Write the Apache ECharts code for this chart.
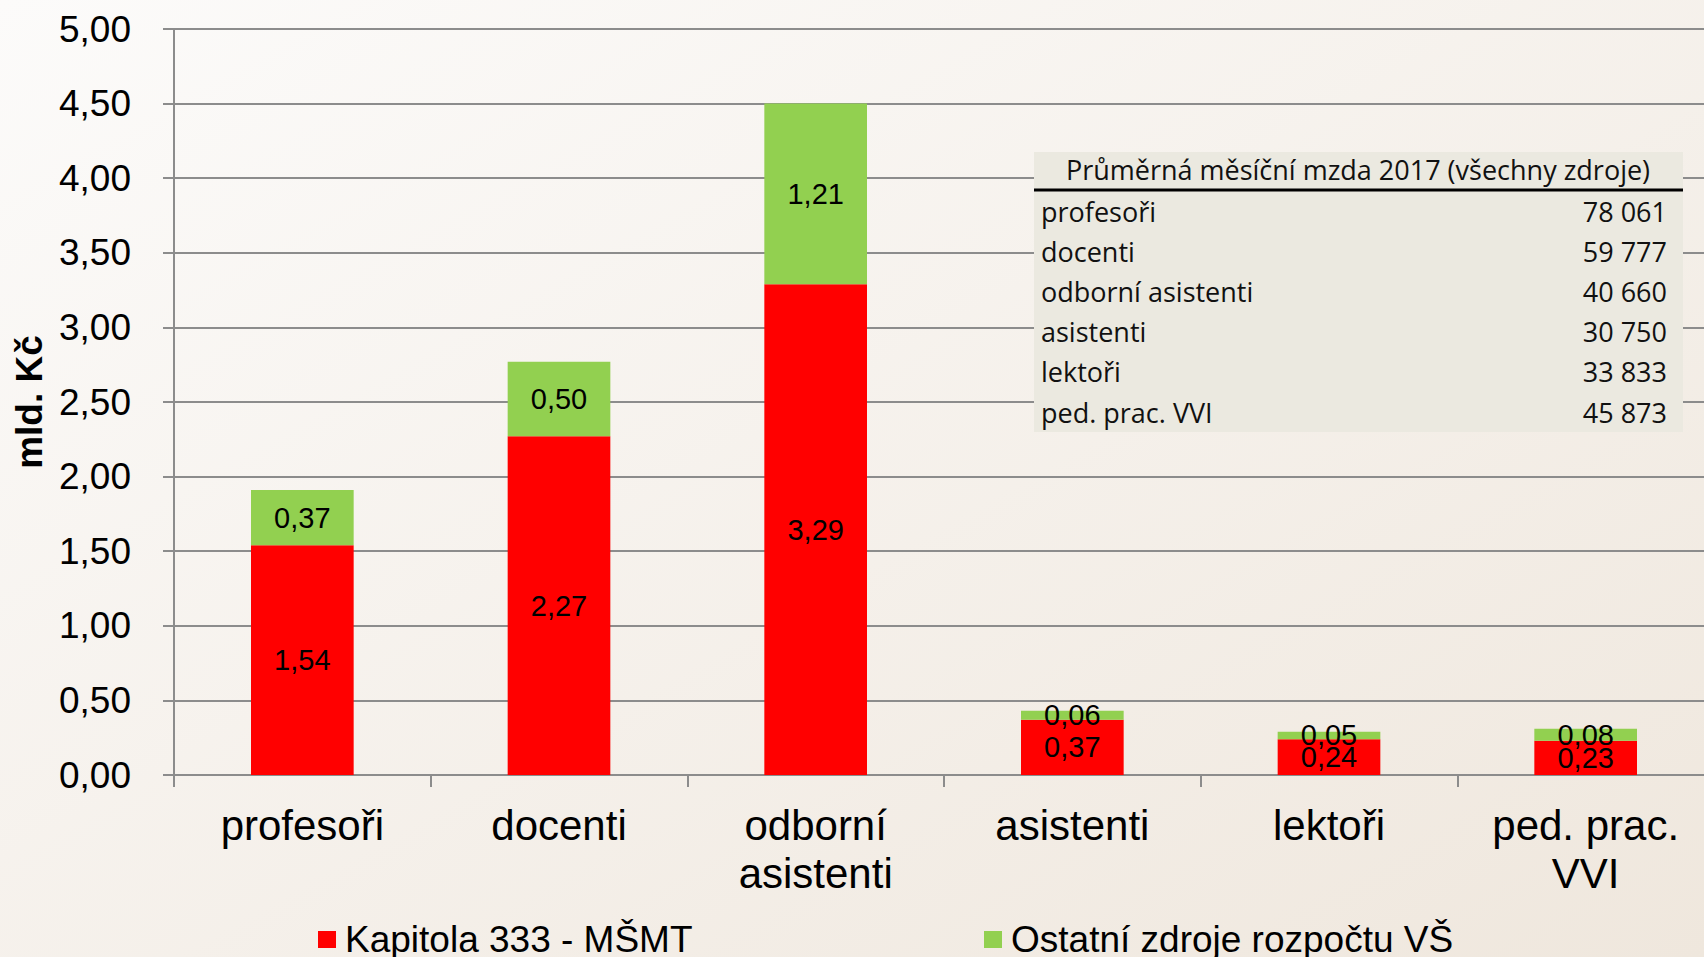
<!DOCTYPE html>
<html>
<head>
<meta charset="utf-8">
<script src="https://cdn.jsdelivr.net/npm/echarts@6/dist/echarts.min.js"></script>
<style>
html, body { margin: 0; padding: 0; }
#main { width: 1704px; height: 957px; }
</style>
</head>
<body>
<div id="main"></div>
<script>
// kategorie a hodnoty (mld. Kč)
var categories = ["profesoři", "docenti", "odborní\nasistenti", "asistenti", "lektoři", "ped. prac.\nVVI"];
var kapitola333 = [1.54, 2.27, 3.29, 0.37, 0.24, 0.23];
var ostatniZdroje = [0.37, 0.50, 1.21, 0.06, 0.05, 0.08];
var yTicks = [0, 0.5, 1, 1.5, 2, 2.5, 3, 3.5, 4, 4.5, 5];

// tabulka průměrných mezd
var tableTitle = "Průměrná měsíční mzda 2017 (všechny zdroje)";
var tableNames = ["profesoři", "docenti", "odborní asistenti", "asistenti", "lektoři", "ped. prac. VVI"];
var tableWages = ["78 061", "59 777", "40 660", "30 750", "33 833", "45 873"];

var fmt = function (v) { return v.toFixed(2).replace(".", ","); };
var axisColor = "#8c8c8c";
var tableFont = "'Open Sans', sans-serif";

// tabulka jako graphic prvky
var graphics = [
  { type: "rect", shape: { x: 1034, y: 152, width: 649, height: 280 }, style: { fill: "#ebe9e0" }, z: 10 },
  { type: "text", x: 1358, y: 169, z: 11,
    style: { text: tableTitle, font: "27px " + tableFont, fill: "#111", align: "center", verticalAlign: "middle" } },
  { type: "line", shape: { x1: 1034, y1: 190, x2: 1683, y2: 190 }, style: { stroke: "#000", lineWidth: 3 }, z: 11 }
];
tableNames.forEach(function (name, i) {
  var y = 211 + i * 40.2;
  graphics.push({ type: "text", x: 1041, y: y, z: 11,
    style: { text: name, font: "27px " + tableFont, fill: "#111", align: "left", verticalAlign: "middle" } });
  graphics.push({ type: "text", x: 1667, y: y, z: 11,
    style: { text: tableWages[i], font: "27px " + tableFont, fill: "#111", align: "right", verticalAlign: "middle" } });
});

var myChart = echarts.init(document.getElementById("main"), null, { renderer: "svg" });

myChart.setOption({
  backgroundColor: {
    type: "linear", x: 0, y: 0, x2: 1, y2: 1,
    colorStops: [{ offset: 0, color: "#fcfbfa" }, { offset: 1, color: "#efe7dd" }]
  },
  animation: false,
  textStyle: { fontFamily: "Arial, 'Liberation Sans', sans-serif" },
  grid: { left: 174, width: 1540, top: 29, height: 746, outerBoundsMode: "none", containLabel: false },
  legend: [
    {
      left: 313, top: 916, itemWidth: 18, itemHeight: 17, itemGap: 0,
      icon: "rect", data: ["Kapitola 333 - MŠMT"],
      textStyle: { fontSize: 37, color: "#000", padding: [0, 0, 0, 4] }
    },
    {
      left: 979, top: 916, itemWidth: 18, itemHeight: 17, itemGap: 0,
      icon: "rect", data: ["Ostatní zdroje rozpočtu VŠ"],
      textStyle: { fontSize: 37, color: "#000", padding: [0, 0, 0, 4] }
    }
  ],
  xAxis: {
    type: "category",
    data: categories,
    axisLine: { lineStyle: { color: axisColor, width: 2 } },
    axisTick: { show: true, length: 12, lineStyle: { color: axisColor, width: 2 } },
    axisLabel: { fontSize: 42, color: "#000", margin: 26, lineHeight: 48, interval: 0 }
  },
  yAxis: {
    type: "value",
    min: yTicks[0],
    max: yTicks[yTicks.length - 1],
    interval: yTicks[1] - yTicks[0],
    name: "mld. Kč",
    nameLocation: "middle",
    nameRotate: 90,
    nameGap: 126,
    nameTextStyle: { fontSize: 37, fontWeight: "bold", color: "#000" },
    axisLine: { show: true, lineStyle: { color: axisColor, width: 2 } },
    axisTick: { show: true, length: 11, lineStyle: { color: axisColor, width: 2 } },
    axisLabel: { fontSize: 37, color: "#000", margin: 43, formatter: fmt },
    splitLine: { show: true, lineStyle: { color: axisColor, width: 2 } }
  },
  series: [
    {
      name: "Kapitola 333 - MŠMT",
      type: "bar",
      stack: "total",
      barWidth: "40%",
      data: kapitola333,
      itemStyle: { color: "#ff0000" },
      label: { show: true, position: "inside", fontSize: 29, color: "#000",
        formatter: function (p) { return fmt(p.value); } }
    },
    {
      name: "Ostatní zdroje rozpočtu VŠ",
      type: "bar",
      stack: "total",
      barWidth: "40%",
      data: ostatniZdroje,
      itemStyle: { color: "#92d050" },
      label: { show: true, position: "inside", fontSize: 29, color: "#000",
        formatter: function (p) { return fmt(p.value); } }
    }
  ],
  graphic: graphics
});
</script>
</body>
</html>
